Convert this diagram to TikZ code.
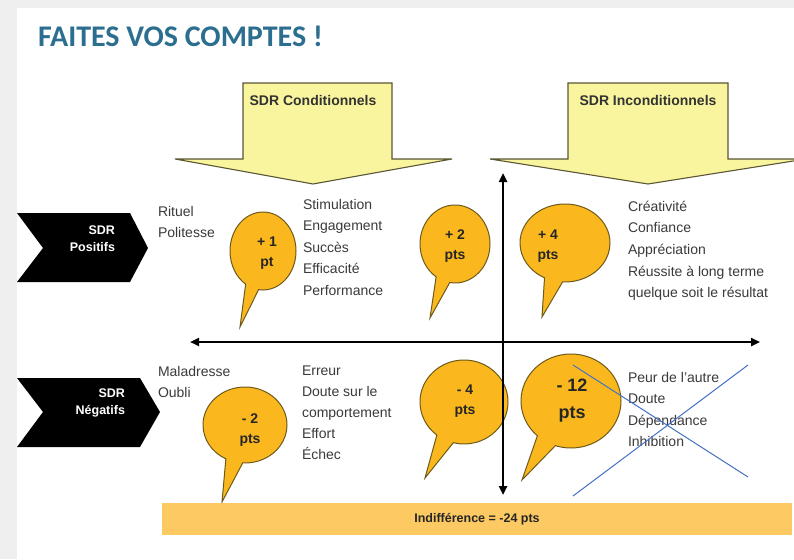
\documentclass[tikz,border=0pt]{standalone}
\usepackage{fontspec}
\setmainfont{Liberation Sans}
\newfontfamily\titlefont{Carlito}
\usetikzlibrary{shapes.callouts,arrows.meta}

\definecolor{titleblue}{HTML}{2C6E8F}
\definecolor{paneyellow}{HTML}{F9F59E}
\definecolor{paneedge}{HTML}{5A5636}
\definecolor{bubblegold}{HTML}{FAB81E}
\definecolor{bubbleedge}{HTML}{6E5A1A}
\definecolor{bargold}{HTML}{FCC962}
\definecolor{bodygrey}{HTML}{3A3A3A}
\definecolor{crossblue}{HTML}{4472C4}
\definecolor{framegrey}{HTML}{EFEFEF}

\begin{document}
\begin{tikzpicture}[x=1pt,y=-1pt,
  every node/.style={inner sep=0pt, outer sep=0pt},
  headarrow/.style={fill=paneyellow, draw=paneedge, line width=1.1pt, line join=miter},
  headlabel/.style={font=\fontsize{14}{16}\selectfont\bfseries, text=black!80},
  chevron/.style={fill=black},
  rowlabel/.style={font=\fontsize{12.5}{17}\selectfont\bfseries, text=white, align=right},
  itemlist/.style={font=\fontsize{14}{21.6}\selectfont, text=bodygrey, align=left, anchor=north west},
  bubble/.style={ellipse callout, fill=bubblegold, draw=bubbleedge, line width=1pt, callout pointer arc=24},
  bubbletext/.style={font=\fontsize{14}{20}\selectfont\bfseries, text=black!85, align=center},
  axis/.style={line width=2.4pt, {Triangle[length=9pt,width=8pt]}-{Triangle[length=9pt,width=8pt]}},
  cross/.style={crossblue, line width=1pt},
]

% page frame
\useasboundingbox (0,0) rectangle (794,559);
\fill[framegrey] (0,0) rectangle (794,559);
\fill[white] (17,8) rectangle (794,559);

% title
\node[anchor=base west, font=\titlefont\fontsize{30}{36}\selectfont\bfseries, text=titleblue]
  (title) at (38,47) {FAITES VOS COMPTES !};

% column headings
\draw[headarrow] (243,83) -- (392,83) -- (392,159) -- (452,159) -- (313,184) -- (175,159) -- (243,159) -- cycle;
\node[headlabel] (cond) at (313,100) {SDR Conditionnels};
\draw[headarrow] (568,83) -- (728,83) -- (728,159) -- (806,159) -- (648,184) -- (490,159) -- (568,159) -- cycle;
\node[headlabel] (incond) at (648,100) {SDR Inconditionnels};

% row headings
\fill[chevron] (17,213) -- (130,213) -- (148,248) -- (130,282) -- (17,282) -- (43,248) -- cycle;
\node[rowlabel, anchor=east] (pos) at (115,239) {SDR\\Positifs};
\fill[chevron] (17,378) -- (140,378) -- (160,412) -- (140,447) -- (17,447) -- (43,412) -- cycle;
\node[rowlabel, anchor=east] (neg) at (125,403) {SDR\\Négatifs};

% item lists
\node[itemlist] (l1) at (158,206) {Rituel\\Politesse};
\node[itemlist] (l2) at (303,199) {Stimulation\\Engagement\\Succès\\Efficacité\\Performance};
\node[itemlist] (l3) at (628,201) {Créativité\\Confiance\\Appréciation\\Réussite à long terme\\quelque soit le résultat};
\node[itemlist] (l4) at (158,366) {Maladresse\\Oubli};
\node[itemlist, font=\fontsize{14}{21}\selectfont] (l5) at (302,366) {Erreur\\Doute sur le\\comportement\\Effort\\Échec};
\node[itemlist] (l6) at (628,372) {Peur de l’autre\\Doute\\Dépendance\\Inhibition};

% score bubbles
\node[bubble, minimum width=66pt, minimum height=78pt, callout absolute pointer={(240,327)}] (b1) at (263,251) {};
\node[bubble, minimum width=70pt, minimum height=78pt, callout absolute pointer={(430,318)}] (b2) at (455,244) {};
\node[bubble, minimum width=90pt, minimum height=78pt, callout absolute pointer={(542,317)}] (b4) at (565,243) {};
\node[bubble, minimum width=84pt, minimum height=76pt, callout absolute pointer={(222,502)}] (bm2) at (245,425) {};
\node[bubble, minimum width=88pt, minimum height=84pt, callout absolute pointer={(425,478)}] (bm4) at (464,402) {};
\node[bubble, minimum width=100pt, minimum height=94pt, callout absolute pointer={(522,480)}] (bm12) at (571,401) {};

\node[bubbletext] (t1) at (267,253) {+ 1\\pt};
\node[bubbletext] (t2) at (455,246) {+ 2\\pts};
\node[bubbletext] (t4) at (548,246) {+ 4\\pts};
\node[bubbletext] (tm2) at (250,430) {- 2\\pts};
\node[bubbletext] (tm4) at (465,401) {- 4\\pts};
\node[bubbletext, font=\fontsize{18}{27}\selectfont\bfseries] (tm12) at (572,401) {- 12\\pts};

% axes
\coordinate (vtop) at (503,173);
\coordinate (vbot) at (503,495);
\coordinate (hleft) at (190,342);
\coordinate (hright) at (760,342);
\draw[axis] (vbot) -- (vtop);
\draw[axis] (hleft) -- (hright);

% bottom band
\node[fill=bargold, minimum width=630pt, minimum height=32pt,
      font=\fontsize{12.5}{15}\selectfont\bfseries, text=black!85]
  (bar) at (477,519) {Indifférence = -24 pts};

% crossing-out
\coordinate (xa) at (573,365);
\coordinate (xb) at (748,477);
\coordinate (xc) at (748,365);
\coordinate (xd) at (573,496);
\draw[cross] (xa) -- (xb);
\draw[cross] (xc) -- (xd);

\end{tikzpicture}
\end{document}
